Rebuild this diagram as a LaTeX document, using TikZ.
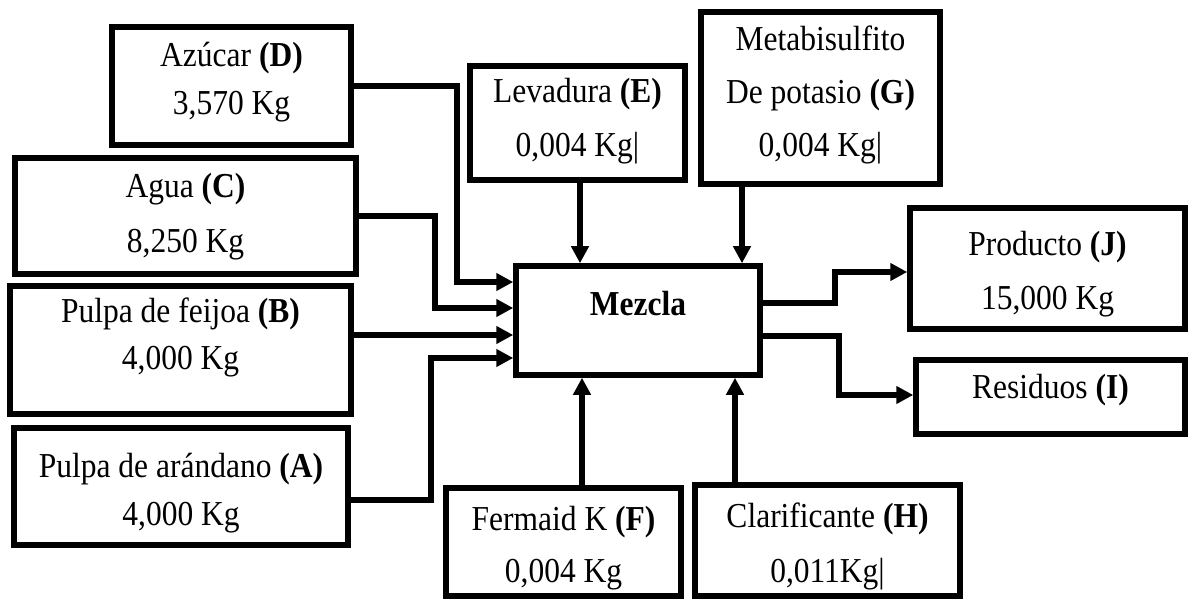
\documentclass[tikz,border=0pt]{standalone}
\usepackage{fontspec}
\setmainfont{Liberation Serif}[FakeStretch=0.9]
\usetikzlibrary{arrows.meta}
\begin{document}
\begin{tikzpicture}[x=1pt,y=-1pt,
  box/.style={draw, line width=5.5pt, rectangle, inner sep=0pt},
  txt/.style={anchor=base, inner sep=0pt, font=\fontsize{35}{48}\selectfont},
  arr/.style={line width=5.5pt, -{Triangle[length=17pt,width=17pt]}}]
\useasboundingbox (0,0) rectangle (1190,601);
% boxes
\node[box, minimum width=239pt, minimum height=118pt] (D) at (231.5,86) {};
\node[box, minimum width=341pt, minimum height=116pt] (C) at (185.5,216) {};
\node[box, minimum width=341pt, minimum height=128pt] (B) at (180.5,350) {};
\node[box, minimum width=334pt, minimum height=117pt] (A) at (181,486.5) {};
\node[box, minimum width=215pt, minimum height=114pt] (E) at (577.5,123) {};
\node[box, minimum width=239pt, minimum height=172pt] (G) at (820.5,98) {};
\node[box, minimum width=244pt, minimum height=109pt] (Mz) at (638,320.5) {};
\node[box, minimum width=275pt, minimum height=121pt] (J) at (1047.5,268.5) {};
\node[box, minimum width=269pt, minimum height=74pt] (I) at (1050.5,397) {};
\node[box, minimum width=235pt, minimum height=108pt] (F) at (563.5,542) {};
\node[box, minimum width=265pt, minimum height=111pt] (H) at (827.5,540.5) {};
% texts
\node[txt] (tD) at (D.center |- 0,67) {\begin{tabular}[t]{@{}c@{}}Azúcar \textbf{(D)}\\ 3,570 Kg\end{tabular}};
\node[txt] (tC) at (C.center |- 0,198) {\begin{tabular}[t]{@{}c@{}}Agua \textbf{(C)}\\[7pt] 8,250 Kg\end{tabular}};
\node[txt] (tB) at (B.center |- 0,323) {\begin{tabular}[t]{@{}c@{}}Pulpa de feijoa \textbf{(B)}\\[-1pt] 4,000 Kg\end{tabular}};
\node[txt] (tA) at (A.center |- 0,477) {\begin{tabular}[t]{@{}c@{}}Pulpa de arándano \textbf{(A)}\\ 4,000 Kg\end{tabular}};
\node[txt] (tE) at (E.center |- 0,103) {\begin{tabular}[t]{@{}c@{}}Levadura \textbf{(E)}\\[6pt] 0,004 Kg|\end{tabular}};
\node[txt] (tG) at (G.center |- 0,51) {\begin{tabular}[t]{@{}c@{}}Metabisulfito\\[5pt] De potasio \textbf{(G)}\\[5pt] 0,004 Kg|\end{tabular}};
\node[txt] (tMz) at (Mz.center |- 0,316) {\textbf{Mezcla}};
\node[txt] (tJ) at (J.center |- 0,256) {\begin{tabular}[t]{@{}c@{}}Producto \textbf{(J)}\\[6pt] 15,000 Kg\end{tabular}};
\node[txt] (tI) at (I.center |- 0,398) {Residuos \textbf{(I)}};
\node[txt] (tF) at (F.center |- 0,530) {\begin{tabular}[t]{@{}c@{}}Fermaid K \textbf{(F)}\\[4pt] 0,004 Kg\end{tabular}};
\node[txt] (tH) at (H.center |- 0,527) {\begin{tabular}[t]{@{}c@{}}Clarificante \textbf{(H)}\\[7pt] 0,011Kg|\end{tabular}};
% connectors
\draw[arr] (D.east) -- (457,86) |- (Mz.west |- 0,282);
\draw[arr] (C.east) -- (435,216) |- (Mz.west |- 0,308);
\draw[arr] (B.east |- 0,335) -- (Mz.west |- 0,335);
\draw[arr] (A.east |- 0,500) -- (431,500) |- (Mz.west |- 0,358);
\draw[arr] (E.south -| 580,0) -- (Mz.north -| 580,0);
\draw[arr] (G.south -| 742,0) -- (Mz.north -| 742,0);
\draw[arr] (F.north -| 582,0) -- (Mz.south -| 582,0);
\draw[arr] (H.north -| 735,0) -- (Mz.south -| 735,0);
\draw[arr] (Mz.east |- 0,303) -- (835,303) |- (J.west |- 0,272);
\draw[arr] (Mz.east |- 0,336) -- (839,336) |- (I.west |- 0,395);
\end{tikzpicture}
\end{document}
